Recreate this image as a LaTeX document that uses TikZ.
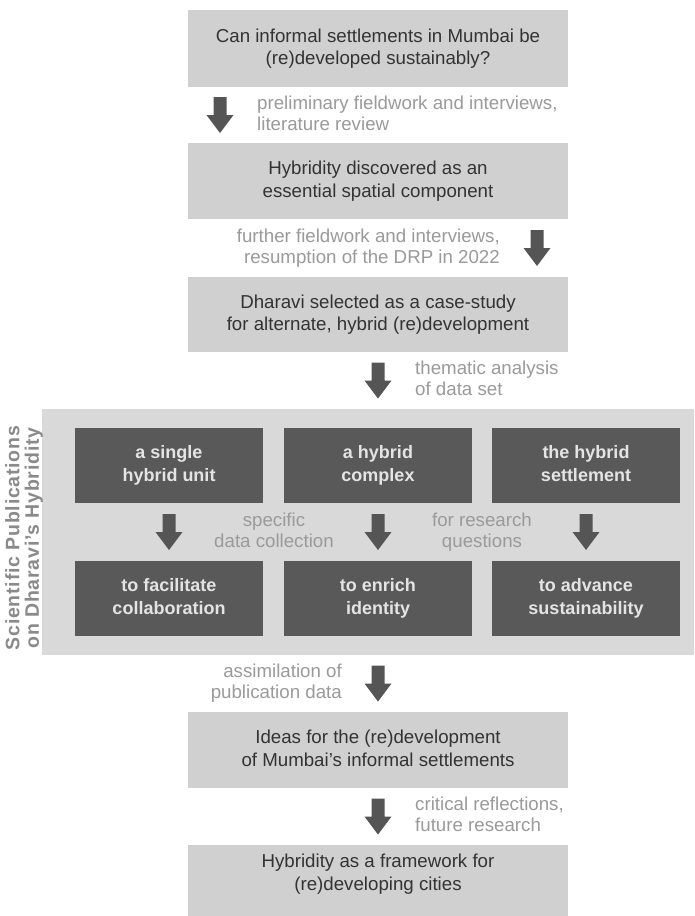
\documentclass[tikz,border=0pt]{standalone}
\usepackage{fontspec}
\setmainfont{Liberation Sans}
\definecolor{boxc}{HTML}{D0D0D0}
\definecolor{panelc}{HTML}{D9D9D9}
\definecolor{darkc}{HTML}{595959}
\definecolor{arrowc}{HTML}{555555}
\definecolor{labelc}{HTML}{9A9A9A}
\definecolor{textc}{HTML}{333333}
\definecolor{darktextc}{HTML}{E4E4E4}
\definecolor{sidec}{HTML}{8A8A8A}
\newcommand\evstrut{\vrule width 0pt height 15.5pt depth 4pt\relax}
\begin{document}
\begin{tikzpicture}[x=1pt,y=-1pt,
  evenlines/.style={execute at begin node=\evstrut, execute at end node=\evstrut},
  mainbox/.style={fill=boxc, minimum width=380pt, minimum height=76pt, inner sep=0pt, align=center, text=textc, font=\fontsize{18.7}{22.5}\selectfont, evenlines},
  darkbox/.style={fill=darkc, minimum width=188pt, minimum height=75pt, inner sep=0pt, align=center, text=darktextc, font=\bfseries\fontsize{18}{23}\selectfont, evenlines},
  lbl/.style={inner sep=0pt, text=labelc, font=\fontsize{18.7}{21}\selectfont, evenlines},
  blockarrow/.pic={\fill[arrowc] (-6.5,-18) -- (6.5,-18) -- (6.5,0) -- (13.5,0) -- (0,18) -- (-13.5,0) -- (-6.5,0) -- cycle;}
]
\useasboundingbox (0,0) rectangle (694,916);
\fill[white] (0,0) rectangle (694,916);

% main boxes
\node[mainbox, minimum height=77pt] (box1) at (378,48.5) {Can informal settlements in Mumbai be\\(re)developed sustainably?};
\node[mainbox] (box2) at (378,181) {Hybridity discovered as an\\essential spatial component};
\node[mainbox, minimum height=75pt] (box3) at (378,314.5) {Dharavi selected as a case-study\\for alternate, hybrid (re)development};

% panel
\node[fill=panelc, minimum width=652pt, minimum height=246pt, inner sep=0pt] (panel) at (368,532) {};
\node[rotate=90, align=center, inner sep=0pt, text=sidec, font=\bfseries\fontsize{19.5}{19.5}\selectfont\addfontfeature{LetterSpace=4}] (side) at (24,538) {Scientific Publications\\on Dharavi's Hybridity};

\node[darkbox] (d1) at (169,465.5) {a single\\hybrid unit};
\node[darkbox] (d2) at (378,465.5) {a hybrid\\complex};
\node[darkbox] (d3) at (586,465.5) {the hybrid\\settlement};
\node[darkbox] (e1) at (169,598.5) {to facilitate\\collaboration};
\node[darkbox] (e2) at (378,598.5) {to enrich\\identity};
\node[darkbox] (e3) at (586,598.5) {to advance\\sustainability};

\node[mainbox] (box4) at (378,750) {Ideas for the (re)development\\of Mumbai's informal settlements};
\fill[boxc] (188,874) rectangle (568,916);
\node[mainbox, minimum height=58pt] (box5) at (378,874) {Hybridity as a framework for\\(re)developing cities};

% arrows and labels
\pic at (220,115) {blockarrow};
\node[lbl, anchor=west, align=left] (l1) at (257,115) {preliminary fieldwork and interviews,\\literature review};
\pic at (537,248) {blockarrow};
\node[lbl, anchor=east, align=right] (l2) at (500,248) {further fieldwork and interviews,\\resumption of the DRP in 2022};
\pic at (378,380.5) {blockarrow};
\node[lbl, anchor=west, align=left] (l3) at (415,380.5) {thematic analysis\\of data set};

\pic at (169,532) {blockarrow};
\pic at (378,532) {blockarrow};
\pic at (586,532) {blockarrow};
\node[lbl, align=center] (l4) at (274,532) {specific\\data collection};
\node[lbl, align=center] (l5) at (482,532) {for research\\questions};

\pic at (378,683.5) {blockarrow};
\node[lbl, anchor=east, align=right] (l6) at (342,683.5) {assimilation of\\publication data};
\pic at (378,816.5) {blockarrow};
\node[lbl, anchor=west, align=left] (l7) at (415,816.5) {critical reflections,\\future research};
\end{tikzpicture}
\end{document}
